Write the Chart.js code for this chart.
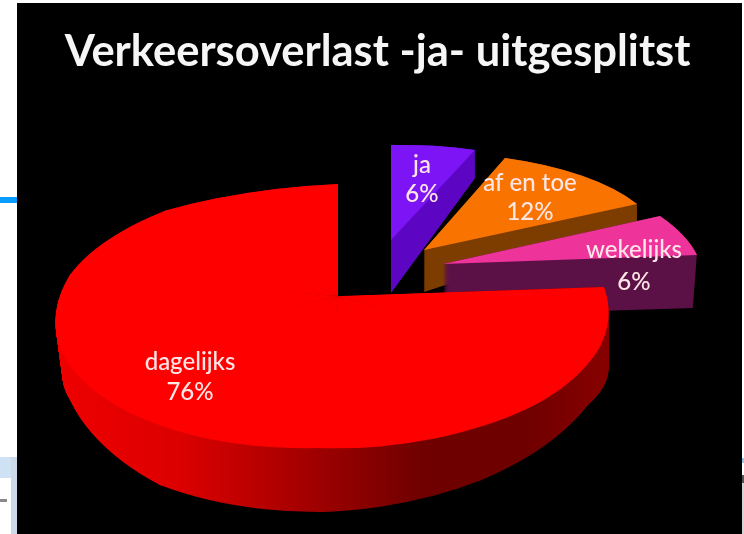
<!DOCTYPE html>
<html>
<head>
<meta charset="utf-8">
<style>
html, body { margin: 0; padding: 0; background: #fff; overflow: hidden; }
.bit { position: absolute; }
#wrap { position: relative; width: 744px; height: 534px; }
canvas { position: absolute; left: 0; top: 0; filter: blur(0.6px); }
</style>
<script src="https://cdn.jsdelivr.net/npm/chart.js@4"></script>
</head>
<body>
<div id="wrap">
  <!-- black slide and the bits of screenshot around it -->
  <div class="bit" style="left:17px;top:3px;width:725px;height:531px;background:#000"></div>
  <div class="bit" style="left:0;top:197px;width:17px;height:6px;background:#0a9bff"></div>
  <div class="bit" style="left:0;top:457px;width:17px;height:21px;background:#cfe2f3"></div>
  <div class="bit" style="left:11px;top:457px;width:6px;height:77px;background:#ccdaea"></div>
  <div class="bit" style="left:0;top:499px;width:7px;height:3px;background:#8a8a8a"></div>
  <div class="bit" style="left:742px;top:458px;width:2px;height:5px;background:#9cc6e6"></div>
  <div class="bit" style="left:742px;top:475px;width:2px;height:8px;background:#555"></div>
  <div class="bit" style="left:742px;top:483px;width:2px;height:51px;background:#d4d4d4"></div>
  <canvas id="chart" width="744" height="534"></canvas>
</div>
<script>
// --- DATA ---
const categories = ['dagelijks', 'ja', 'af en toe', 'wekelijks'];
const percentages = [76, 6, 12, 6];
const titleText = 'Verkeersoverlast -ja- uitgesplitst';

// --- LOOK ---
const faceColors = ['#fe0000', '#7d14f5', '#f97300', '#ee339b'];
const wallColors = [null, '#5c06c4', '#7d3c00', '#5c1146'];
const redWallStops = [[60, '#ee0000'], [180, '#dc0000'], [260, '#b80000'], [340, '#940000'], [420, '#700000'], [520, '#6e0000'], [604, '#860000']];
const drawOrder = [1, 2, 3, 0];

// the slide is a tilted, exploded pie: each slice is projected on the page.
// apex + rim points, evenly spaced along the slice, for its top and its floor
const projections = [
    {
        top: { apex: [338, 296], rim: [[604, 287], [586, 366], [479, 427], [319, 448], [162, 426], [66, 360], [70, 275], [165, 211], [338, 184]] },
        floor: { apex: [338, 356], rim: [[603, 347], [588, 405], [479, 481], [319, 512], [160, 485], [70, 400], [80, 335], [165, 271], [338, 244]] }
    },
    {
        top: { apex: [391, 240], rim: [[391, 145], [475, 150]] },
        floor: { apex: [391, 293], rim: [[391, 190], [475, 178]] }
    },
    {
        top: { apex: [424, 250], rim: [[505, 158], [637, 204]] },
        floor: { apex: [424, 292], rim: [[505, 176], [637, 222]] }
    },
    {
        top: { apex: [443, 264], rim: [[660, 216], [697, 255]] },
        floor: { apex: [443, 316], rim: [[658, 268], [693, 308]] }
    }
];
const labelSpots = [[190, 362, 392], [422, 165, 194], [530, 183, 212], [634, 250, 282]];

function lerpPoint(a, b, t) { return [a[0] + (b[0] - a[0]) * t, a[1] + (b[1] - a[1]) * t]; }

// draws the arc element once per rim sector, with the matrix that puts it on the page
function drawSlice(ctx, arc, color, apex, rim) {
    const steps = rim.length - 1;
    const look = Object.assign({}, arc.options, { backgroundColor: color, borderWidth: 0 });
    const saved = arc.options;
    arc.options = look;
    for (let i = 0; i < steps; i++) {
        const a0 = arc.startAngle + arc.circumference * i / steps;
        const a1 = arc.startAngle + arc.circumference * (i + 1) / steps;
        const R = arc.outerRadius;
        const ux = Math.cos(a0) * R, uy = Math.sin(a0) * R, vx = Math.cos(a1) * R, vy = Math.sin(a1) * R;
        const det = ux * vy - vx * uy;
        const px = rim[i][0] - apex[0], py = rim[i][1] - apex[1];
        const qx = rim[i + 1][0] - apex[0], qy = rim[i + 1][1] - apex[1];
        const m11 = (px * vy - qx * uy) / det, m12 = (qx * ux - px * vx) / det;
        const m21 = (py * vy - qy * uy) / det, m22 = (qy * ux - py * vx) / det;
        ctx.save();
        ctx.setTransform(m11, m21, m12, m22,
            apex[0] - m11 * arc.x - m12 * arc.y,
            apex[1] - m21 * arc.x - m22 * arc.y);
        if (steps > 1) {
            ctx.beginPath();
            ctx.moveTo(arc.x, arc.y);
            ctx.arc(arc.x, arc.y, R * 1.2, a0 - 0.006, a1 + 0.006);
            ctx.closePath();
            ctx.clip();
        }
        arc.draw(ctx);
        ctx.restore();
    }
    arc.options = saved;
}

function drawWall(ctx, arc, view, fill) {
    const layer = document.createElement('canvas');
    layer.width = ctx.canvas.width; layer.height = ctx.canvas.height;
    const lc = layer.getContext('2d');
    const sweeps = 80;
    for (let s = sweeps; s >= 0; s--) {
        const t = s / sweeps;
        const apex = lerpPoint(view.top.apex, view.floor.apex, t);
        const rim = view.top.rim.map((p, i) => lerpPoint(p, view.floor.rim[i], t));
        drawSlice(lc, arc, '#000', apex, rim);
    }
    lc.setTransform(1, 0, 0, 1, 0, 0);
    lc.globalCompositeOperation = 'source-in';
    lc.fillStyle = fill;
    lc.fillRect(0, 0, layer.width, layer.height);
    ctx.save();
    ctx.setTransform(1, 0, 0, 1, 0, 0);
    ctx.drawImage(layer, 0, 0);
    ctx.restore();
}

const tiltedPie = {
    id: 'tiltedPie',
    beforeDatasetsDraw(chart) {
        const ctx = chart.ctx;
        const arcs = chart.getDatasetMeta(0).data;
        drawOrder.forEach(i => {
            let fill = wallColors[i];
            if (!fill) {
                fill = ctx.createLinearGradient(redWallStops[0][0], 0, 604, 0);
                redWallStops.forEach(s => fill.addColorStop((s[0] - 60) / 544, s[1]));
            }
            drawWall(ctx, arcs[i], projections[i], fill);
            drawSlice(ctx, arcs[i], faceColors[i], projections[i].top.apex, projections[i].top.rim);
        });
        ctx.save();
        ctx.fillStyle = '#ffe6e6';
        ctx.font = '500 24px Lato';
        ctx.textAlign = 'center';
        ctx.textBaseline = 'middle';
        categories.forEach((name, i) => {
            const spot = labelSpots[i];
            ctx.fillText(name, spot[0], spot[1]);
            ctx.fillText(percentages[i] + '%', spot[0], spot[2]);
        });
        ctx.restore();
        return false; // slices are already drawn
    }
};

new Chart(document.getElementById('chart').getContext('2d'), {
    type: 'pie',
    data: {
        labels: categories,
        datasets: [{ data: percentages, backgroundColor: faceColors, borderWidth: 0 }]
    },
    options: {
        responsive: false,
        devicePixelRatio: 1,
        animation: false,
        rotation: 88.2,
        layout: { padding: { left: 11 } },
        plugins: {
            legend: { display: false },
            tooltip: { enabled: false },
            title: {
                display: true,
                text: titleText,
                color: '#f6f6f6',
                fullSize: false,
                font: { family: 'Lato', size: 43.5, weight: 'bold' },
                padding: { top: 26, bottom: 10 }
            }
        }
    },
    plugins: [tiltedPie]
});
</script>
</body>
</html>
